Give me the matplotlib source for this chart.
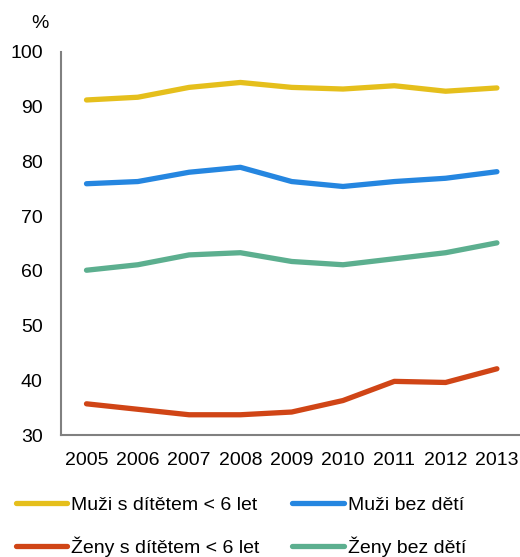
import matplotlib
matplotlib.use("Agg")
import matplotlib.pyplot as plt

plt.rcParams["font.family"] = ["Liberation Sans", "DejaVu Sans"]

# data
years = ["2005", "2006", "2007", "2008", "2009", "2010", "2011", "2012", "2013"]
muzi_s_ditetem = [91.2, 91.7, 93.5, 94.4, 93.5, 93.2, 93.8, 92.8, 93.4]
muzi_bez_deti = [75.9, 76.3, 78.0, 78.9, 76.3, 75.4, 76.3, 76.9, 78.1]
zeny_s_ditetem = [35.7, 34.7, 33.7, 33.7, 34.2, 36.3, 39.8, 39.6, 42.1]
zeny_bez_deti = [60.1, 61.1, 62.9, 63.3, 61.7, 61.1, 62.2, 63.3, 65.1]

series = [
    ("Muži s dítětem < 6 let", muzi_s_ditetem, "#E5BF1C"),
    ("Ženy s dítětem < 6 let", zeny_s_ditetem, "#D04516"),
    ("Muži bez dětí", muzi_bez_deti, "#2586E0"),
    ("Ženy bez dětí", zeny_bez_deti, "#5CAF8F"),
]

fig = plt.figure(figsize=(5.2, 5.57), dpi=100)
ax = fig.add_axes([0.117, 0.219, 0.883, 0.688])

x = range(len(years))
for label, vals, color in series:
    ax.plot(x, vals, color=color, lw=3.8, solid_capstyle="round",
            solid_joinstyle="round", label=label)

ax.set_ylim(30, 100)
ax.set_yticks(range(30, 101, 10))
ax.set_xlim(-0.5, 8.45)
ax.set_xticks(list(x))
ax.set_xticklabels(years)
ax.tick_params(length=0, labelsize=14, colors="black")
ax.tick_params(axis="y", pad=13)
ax.tick_params(axis="x", pad=12)

for side in ["top", "right"]:
    ax.spines[side].set_visible(False)
for side in ["left", "bottom"]:
    ax.spines[side].set_color("#808080")
    ax.spines[side].set_linewidth(1.5)

fig.text(0.077, 0.958, "%", fontsize=14, ha="center", va="center")

fig.legend(loc="lower left", bbox_to_anchor=(0.03, 0.0), ncol=2,
           frameon=False, fontsize=14, handlelength=2.65, handletextpad=0.2,
           columnspacing=1.7, labelspacing=1.15, borderpad=0,
           borderaxespad=0)

fig.savefig("out.png", dpi=100)
